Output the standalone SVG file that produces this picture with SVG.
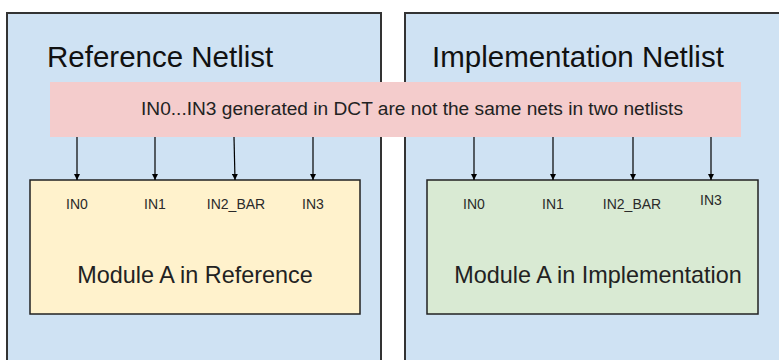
<svg xmlns="http://www.w3.org/2000/svg" width="779" height="360" viewBox="0 0 779 360">
  <defs>
    <marker id="arr" viewBox="0 0 10 10" refX="10" refY="5" markerWidth="5" markerHeight="5" orient="auto" markerUnits="strokeWidth">
      <path d="M0,0 L10,5 L0,10 z" fill="#000"/>
    </marker>
    <style>
      .container { fill: #cfe2f3; stroke: #333333; stroke-width: 2; }
      .title { font-family: "Liberation Sans", Arial, sans-serif; font-size: 29.5px; fill: #111; }
      .banner { fill: #f4cccc; }
      .banner-text { font-family: "Liberation Sans", Arial, sans-serif; font-size: 17.5px; fill: #222; text-anchor: middle; }
      .module-ref { fill: #fff2cc; stroke: #222; stroke-width: 1.5; }
      .module-impl { fill: #d9ead3; stroke: #222; stroke-width: 1.5; }
      .port { font-family: "Liberation Sans", Arial, sans-serif; font-size: 14px; fill: #2a2a2a; text-anchor: middle; }
      .mod-text { font-family: "Liberation Sans", Arial, sans-serif; font-size: 23.4px; fill: #222; text-anchor: middle; }
      .conn line { stroke: #000; stroke-width: 1.2; marker-end: url(#arr); }
    </style>
  </defs>

  <rect width="779" height="360" fill="#ffffff"/>

  <g id="ref-netlist">
    <rect class="container" x="7" y="13" width="374" height="360"/>
    <text class="title" x="47" y="67">Reference Netlist</text>
  </g>

  <g id="impl-netlist">
    <rect class="container" x="405" y="13" width="385" height="360"/>
    <text class="title" x="432" y="67">Implementation Netlist</text>
  </g>

  <g id="banner">
    <rect class="banner" x="50" y="82" width="691" height="55"/>
    <text class="banner-text" x="412" y="115" textLength="542" lengthAdjust="spacingAndGlyphs">IN0...IN3 generated in DCT are not the same nets in two netlists</text>
  </g>

  <g id="module-ref">
    <rect class="module-ref" x="30" y="180" width="330" height="134"/>
    <text class="port" x="77" y="209">IN0</text>
    <text class="port" x="155" y="209">IN1</text>
    <text class="port" x="236" y="209">IN2_BAR</text>
    <text class="port" x="313" y="209">IN3</text>
    <text class="mod-text" x="195" y="283">Module A in Reference</text>
  </g>

  <g id="module-impl">
    <rect class="module-impl" x="427" y="180" width="331" height="134"/>
    <text class="port" x="474" y="209">IN0</text>
    <text class="port" x="553" y="209">IN1</text>
    <text class="port" x="632" y="209">IN2_BAR</text>
    <text class="port" x="711" y="205">IN3</text>
    <text class="mod-text" x="598" y="283">Module A in Implementation</text>
  </g>

  <g id="connectors" class="conn">
    <line x1="77" y1="137" x2="77" y2="180"/>
    <line x1="155" y1="137" x2="155" y2="180"/>
    <line x1="234" y1="137" x2="235" y2="180"/>
    <line x1="313" y1="137" x2="313" y2="180"/>
    <line x1="474" y1="137" x2="474" y2="180"/>
    <line x1="553" y1="137" x2="553" y2="180"/>
    <line x1="633" y1="137" x2="633" y2="180"/>
    <line x1="711" y1="137" x2="711" y2="180"/>
  </g>
</svg>
